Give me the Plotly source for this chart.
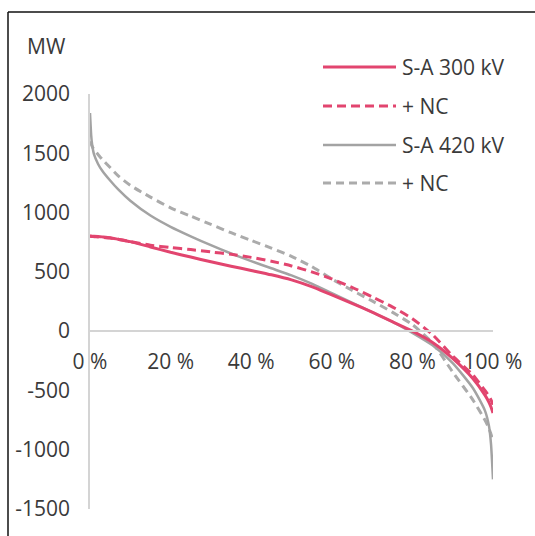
import plotly.graph_objects as go

# Duration curves: share of time (%) vs. transfer (MW)
pct = [0, 0.3, 0.5, 1, 2, 3, 5, 7, 10, 15, 20, 25, 30, 35, 40, 45, 50,
       55, 60, 65, 70, 75, 80, 85, 90, 95, 98, 99, 99.5, 100]

sa300 = [805, 802, 800, 800, 798, 795, 788, 775, 755, 710, 665, 625, 585,
         548, 512, 475, 432, 375, 305, 235, 160, 80, 0, -95, -230, -400,
         -540, -600, -640, -690]
sa300_nc = [800, 799, 798, 797, 795, 792, 785, 775, 755, 725, 705, 688,
            668, 648, 622, 590, 550, 500, 440, 370, 290, 205, 105, -30,
            -210, -370, -500, -550, -580, -620]
sa420 = [1840, 1650, 1580, 1490, 1410, 1355, 1270, 1195, 1100, 975, 880,
         800, 725, 655, 590, 530, 470, 400, 320, 240, 160, 80, -15, -120,
         -270, -480, -670, -800, -950, -1250]
sa420_nc = [1600, 1575, 1560, 1530, 1490, 1450, 1380, 1310, 1230, 1130,
            1040, 970, 900, 830, 765, 700, 630, 545, 440, 345, 255, 160,
            55, -100, -345, -580, -750, -820, -870, -920]

names = ["S-A 300 kV", "+ NC", "S-A 420 kV", "+ NC"]
colors = ["#e2456f", "#e2456f", "#a3a3a3", "#ababab"]
dashes = ["solid", "9px,5px", "solid", "8px,5px"]
widths = [3, 3, 2.5, 3]
series = [sa300, sa300_nc, sa420, sa420_nc]

x_ticks = [0, 20, 40, 60, 80, 100]
x_labels = ["0 %", "20 %", "40 %", "60 %", "80 %", "100 %"]
y_ticks = [-1500, -1000, -500, 0, 500, 1000, 1500, 2000]
y_labels = ["-1500", "-1000", "-500", "0", "500", "1000", "1500", "2000"]

W, H = 535, 536
L, R, T, B = 90, 42, 94, 27
pw, ph = W - L - R, H - T - B
Y0, Y1 = -1500, 2000


def px(x):
    return (x - L) / pw


def py(y):
    return (H - B - y) / ph


fig = go.Figure()
# Draw in reverse so the red curves sit on top
for i in [3, 2, 1, 0]:
    fig.add_trace(go.Scatter(
        x=pct, y=series[i], mode="lines", name=names[i], showlegend=False,
        line=dict(color=colors[i], width=widths[i], dash=dashes[i],
                  shape="spline", smoothing=0.6)))

font = dict(family="Open Sans", size=21, color="#3a3a3a")

shapes = []
annotations = []
# Legend drawn as sample lines plus labels
leg_y = [67, 106, 145, 183]
for i, name in enumerate(names):
    shapes.append(dict(type="line", xref="paper", yref="paper",
                       x0=px(323), x1=px(396), y0=py(leg_y[i]), y1=py(leg_y[i]),
                       line=dict(color=colors[i], width=widths[i], dash=dashes[i])))
    annotations.append(dict(xref="paper", yref="paper", x=px(400), y=py(leg_y[i]),
                            text=name, showarrow=False, xanchor="left",
                            yanchor="middle", font=font))

# Unit label
annotations.append(dict(xref="paper", yref="paper", x=px(68), y=py(46),
                        text="MW", showarrow=False, xanchor="right",
                        yanchor="middle", font=font))

# Outer frame (left and top edges)
shapes.append(dict(type="line", xref="paper", yref="paper",
                   x0=px(8), x1=px(8), y0=py(12), y1=py(540),
                   line=dict(color="#111111", width=1.5)))
shapes.append(dict(type="line", xref="paper", yref="paper",
                   x0=px(8), x1=px(540), y0=py(12), y1=py(12),
                   line=dict(color="#111111", width=1.5)))

fig.update_layout(
    width=W, height=H,
    margin=dict(l=L, r=R, t=T, b=B),
    paper_bgcolor="white", plot_bgcolor="white",
    font=font,
    shapes=shapes, annotations=annotations,
    xaxis=dict(range=[0, 100], tickvals=x_ticks, ticktext=x_labels,
               showgrid=False, zeroline=False, showline=True,
               linecolor="#d4d4d4", linewidth=1.5, ticks="",
               anchor="free", position=(0 - Y0) / (Y1 - Y0),
               ticklabelstandoff=12, tickfont=font),
    yaxis=dict(range=[Y0, Y1], tickvals=y_ticks, ticktext=y_labels,
               showgrid=False, zeroline=False, showline=True,
               linecolor="#d4d4d4", linewidth=1.5, ticks="",
               ticklabelstandoff=14, tickfont=font),
)

fig.write_html("out.html")
